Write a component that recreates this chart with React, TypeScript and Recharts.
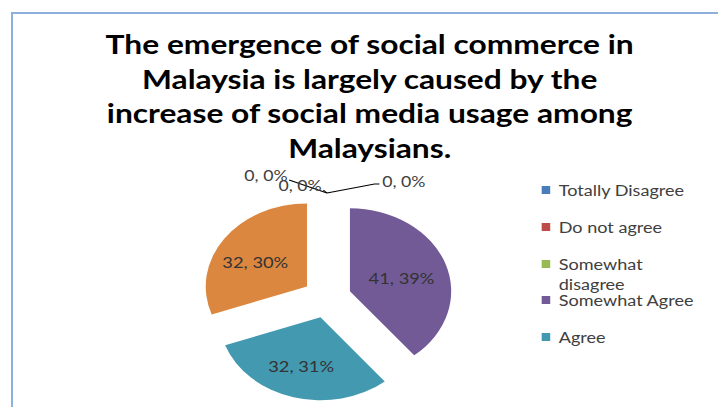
import { PieChart, Pie, Cell, Sector } from 'recharts';

// survey answers, clockwise from 12 o'clock
const categories = ['Totally Disagree', 'Do not agree', 'Somewhat disagree', 'Somewhat Agree', 'Agree', 'Totally Agree'];
const responses = [0, 0, 0, 41, 32, 32];
// percentages as printed on the chart (rounded so they sum to 100)
const shownPercents = [0, 0, 0, 39, 31, 30];
const sliceColors = ['#4A7EBB', '#BE4B48', '#98B954', '#725A96', '#4299B0', '#DB8740'];
const titleLines = [
    'The emergence of social commerce in',
    'Malaysia is largely caused by the',
    'increase of social media usage among',
    'Malaysians.',
];
// the last category is cut off in the original legend
const legendCount = 5;

const data = categories.map((name, i) => ({ name, value: responses[i], fill: sliceColors[i] }));

// the source picture is stretched horizontally, so the chart is drawn narrow and scaled
const S = 1.22;
const W = Math.round(718 / S);
const H = 407;
const RADIAN = Math.PI / 180;
const EXPLODE = 20;
const FONT = 'Lato, "Open Sans", sans-serif';
const ZERO_LABEL_OFFSETS = [[-50, -18], [-22, -8], [63, -12]];

const ExplodedSector = (props: any) => {
    const { cx, cy, midAngle } = props;
    return (
        <Sector
            {...props}
            cx={cx + EXPLODE * Math.cos(-midAngle * RADIAN)}
            cy={cy + EXPLODE * Math.sin(-midAngle * RADIAN)}
        />
    );
};

const renderLabel = (props: any) => {
    const { cx, cy, midAngle, outerRadius, index, value } = props;
    const cos = Math.cos(-midAngle * RADIAN);
    const sin = Math.sin(-midAngle * RADIAN);
    const text = `${value}, ${shownPercents[index]}%`;

    if (value > 0) {
        const d = EXPLODE + outerRadius * 0.58;
        return (
            <text x={cx + d * cos - 3} y={cy + d * sin + 3} textAnchor="middle" dominantBaseline="central"
                fill="#333" fontSize={15} fontFamily={FONT}>
                {text}
            </text>
        );
    }

    // zero slices sit at the top: labels fanned out with leader lines
    const jx = cx + (outerRadius + 22) * cos;
    const jy = cy + (outerRadius + 22) * sin;
    const [ox, oy] = ZERO_LABEL_OFFSETS[index] || [0, -20];
    const lx = jx + ox;
    const ly = jy + oy;
    const pts = ox > 0
        ? `${jx},${jy} ${lx - 24},${ly + 3} ${lx - 20},${ly + 3}`
        : `${lx + 19},${ly + 5} ${jx},${jy}`;
    return (
        <g>
            <polyline points={pts} fill="none" stroke="#000" strokeWidth={1} />
            <text x={lx} y={ly} textAnchor="middle" dominantBaseline="central"
                fill="#404040" fontSize={14.5} fontFamily={FONT}>
                {text}
            </text>
        </g>
    );
};

export default function App() {
    return (
        <div style={{ position: 'absolute', left: 0, top: 0, width: 718, height: H, overflow: 'hidden', background: '#fff' }}>
            {/* chart area frame, only top and left edges visible */}
            <div style={{
                position: 'absolute', left: 11, top: 12, right: -10, bottom: -10,
                borderLeft: '2px solid #8DB0DC', borderTop: '2px solid #8DB0DC',
            }} />

            <div style={{ position: 'absolute', left: 0, top: 0, width: W, height: H, transform: `scaleX(${S})`, transformOrigin: '0 0' }}>
                <div style={{
                    position: 'absolute', left: 0, top: 27, width: 606, textAlign: 'center',
                    fontFamily: FONT, fontWeight: 700, fontSize: 26, lineHeight: '34.7px', color: '#000',
                }}>
                    {titleLines.map((line) => <div key={line}>{line}</div>)}
                </div>

                <div style={{ position: 'absolute', left: 0, top: 0 }}>
                    <PieChart width={W} height={H} margin={{ top: 0, right: 0, bottom: 0, left: 0 }}>
                        <Pie
                            data={data}
                            dataKey="value"
                            nameKey="name"
                            cx={268}
                            cy={298}
                            outerRadius={83}
                            startAngle={90}
                            endAngle={-270}
                            stroke="none"
                            shape={ExplodedSector}
                            activeShape={ExplodedSector}
                            inactiveShape={ExplodedSector}
                            label={renderLabel}
                            labelLine={false}
                            isAnimationActive={false}
                        >
                            {data.map((entry, index) => (
                                <Cell key={`cell-${index}`} fill={entry.fill} />
                            ))}
                        </Pie>
                    </PieChart>
                </div>

                {/* legend */}
                {categories.slice(0, legendCount).map((name, i) => (
                    <div key={name} style={{
                        position: 'absolute', left: 444, top: 190 + i * 36.75 - 10,
                        display: 'flex', alignItems: 'flex-start',
                        fontFamily: FONT, fontSize: 14.8, lineHeight: '20px', color: '#404040',
                    }}>
                        <span style={{ width: 7, height: 8, marginTop: 6, background: sliceColors[i], flex: 'none' }} />
                        <span style={{ marginLeft: 7, width: 114 }}>{name}</span>
                    </div>
                ))}
            </div>
        </div>
    );
}
